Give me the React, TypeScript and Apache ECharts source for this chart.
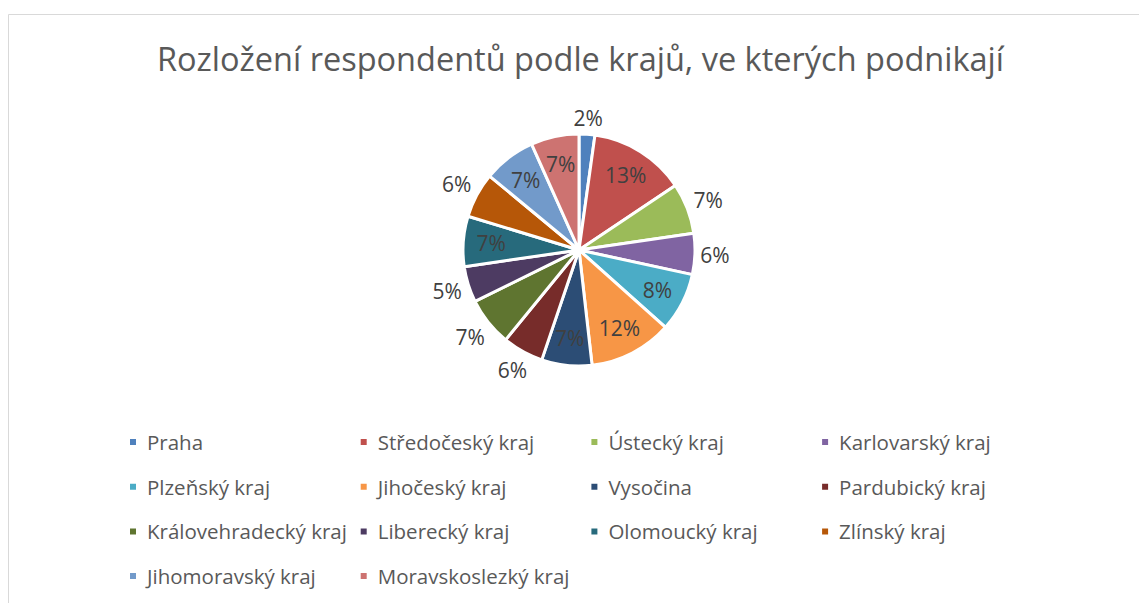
import React, { useEffect, useRef } from "react";
import * as echarts from "echarts";

const TITLE = "Rozložení respondentů podle krajů, ve kterých podnikají";
const regions = [
  "Praha",
  "Středočeský kraj",
  "Ústecký kraj",
  "Karlovarský kraj",
  "Plzeňský kraj",
  "Jihočeský kraj",
  "Vysočina",
  "Pardubický kraj",
  "Královehradecký kraj",
  "Liberecký kraj",
  "Olomoucký kraj",
  "Zlínský kraj",
  "Jihomoravský kraj",
  "Moravskoslezký kraj",
];
const shares = [2.2, 13.4, 7.1, 5.7, 8.2, 11.6, 7.0, 5.7, 6.8, 5.0, 7.0, 6.3, 7.3, 6.7];
const labelInside = [false, true, false, false, true, true, true, false, false, false, true, false, true, true];
const colors = [
  "#4F81BD", "#C0504D", "#9BBB59", "#8064A2", "#4BACC6", "#F79646", "#2C4D75",
  "#772C2A", "#5F7530", "#4D3B62", "#276A7C", "#B65708", "#729ACA", "#CD7371",
];

const FONT = "'Open Sans', Lato, sans-serif";
const CX = 579;
const CY = 250;
const R = 116;

export default function App() {
  const ref = useRef<HTMLDivElement>(null);
  useEffect(() => {
    if (!ref.current) return;
    const chart = echarts.init(ref.current, null, { renderer: "svg" });
    const total = shares.reduce((a, b) => a + b, 0);
    const mids: number[] = [];
    let cum = 0;
    shares.forEach((v) => {
      mids.push(((cum + v / 2) / total) * Math.PI * 2);
      cum += v;
    });
    const cols = [0, 1, 2, 3];
    const legends = cols.map((c) => ({
      orient: "vertical",
      left: 128 + c * 230.7,
      top: 431,
      padding: 0,
      itemWidth: 8,
      itemHeight: 8,
      itemGap: 22.7,
      icon: "rect",
      selectedMode: false,
      data: regions.filter((_, i) => i % 4 === c),
      textStyle: {
        color: "#595959",
        fontFamily: FONT,
        fontSize: 20.5,
        lineHeight: 22,
        padding: [0, 0, 0, 5],
      },
    }));
    chart.setOption({
      animation: false,
      backgroundColor: "#ffffff",
      color: colors,
      title: {
        text: TITLE,
        left: 157,
        top: 42,
        padding: 0,
        textStyle: {
          color: "#595959",
          fontFamily: FONT,
          fontSize: 32.5,
          fontWeight: "normal",
        },
      },
      legend: legends,
      graphic: [
        {
          type: "rect",
          shape: { x: 8.5, y: 14.5, width: 1200, height: 700 },
          style: { fill: "none", stroke: "#d9d9d9", lineWidth: 1 },
          silent: true,
        },
      ],
      series: [
        {
          type: "pie",
          center: [CX, CY],
          radius: [0, R],
          startAngle: 90,
          clockwise: true,
          avoidLabelOverlap: false,
          itemStyle: { borderColor: "#ffffff", borderWidth: 3 },
          labelLine: { show: false },
          label: {
            show: true,
            position: "inside",
            color: "#404040",
            fontFamily: FONT,
            fontSize: 21,
            formatter: (p: any) => Math.round(p.percent) + "%",
          },
          labelLayout: (p: any) => {
            const i = p.dataIndex;
            const a = mids[i];
            const s = Math.sin(a);
            const c = Math.cos(a);
            const w = p.labelRect ? p.labelRect.width : 30;
            const h = p.labelRect ? p.labelRect.height : 20;
            const dist = labelInside[i]
              ? R * 0.76
              : R + 5 + (w / 2) * Math.abs(s) + (h / 2) * Math.abs(c);
            return {
              x: CX + dist * s,
              y: CY - dist * c,
              align: "center",
              verticalAlign: "middle",
            };
          },
          data: regions.map((name, i) => ({ name, value: shares[i] })),
        },
      ],
    });
    return () => chart.dispose();
  }, []);
  return (
    <div
      ref={ref}
      style={{ position: "fixed", left: 0, top: 0, width: 1139, height: 603 }}
    />
  );
}
